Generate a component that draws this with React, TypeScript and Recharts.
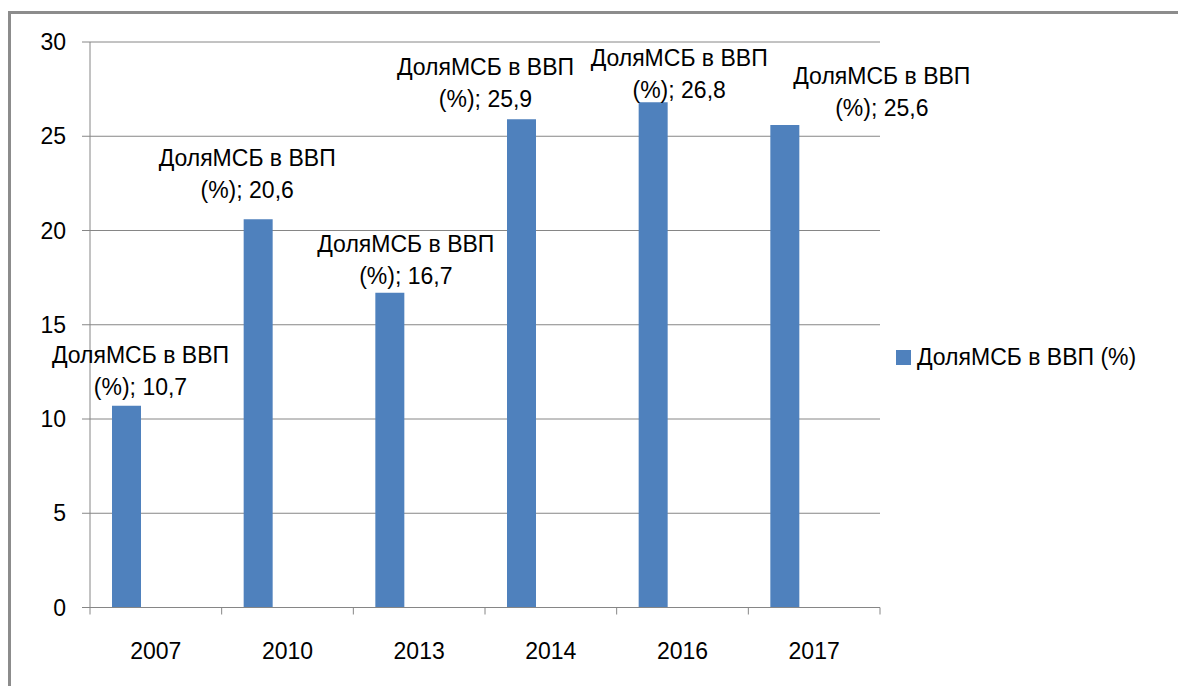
import React from 'react'
import { BarChart, Bar, XAxis, YAxis, CartesianGrid, Legend, LabelList } from 'recharts'

const years = ['2007', '2010', '2013', '2014', '2016', '2017']
const shares = [10.7, 20.6, 16.7, 25.9, 26.8, 25.6]
const yTicks = [0, 5, 10, 15, 20, 25, 30]
const seriesName = 'ДоляМСБ в ВВП (%)'
const labelTitle = 'ДоляМСБ в ВВП'

// Excel labels were dragged by hand, so each one gets its own nudge
const labelDx = [14, -11, 16, -36, 26, 97]
const labelGap = [11, 21, 9, 12, 4, 9]

const data = years.map((year, i) => ({ year, share: shares[i] }))

const FONT = '"Liberation Sans", Arial, sans-serif'
const GRID = '#868686'
const BLUE = '#4F81BD'
const PLOT_W = 790
const BAND = PLOT_W / years.length

const BarLabel = (props: any) => {
  const { x, y, width, value, index } = props
  const cx = Number(x) + Number(width) / 2 + labelDx[index]
  const base = Number(y) - labelGap[index]
  return (
    <text textAnchor="middle" fontSize={23} fill="#000" fontFamily={FONT}>
      <tspan x={cx} y={base - 32}>{labelTitle}</tspan>
      <tspan x={cx} y={base}>{`(%); ${String(value).replace('.', ',')}`}</tspan>
    </text>
  )
}

const YearTick = (props: any) => {
  const { x, y, payload, index } = props
  const half = payload && payload.offset ? payload.offset : BAND / 2
  return (
    <g>
      <line x1={x - half} x2={x - half} y1={y} y2={y + 7} stroke={GRID} />
      {index === years.length - 1 && (
        <line x1={x + half} x2={x + half} y1={y} y2={y + 7} stroke={GRID} />
      )}
      <text x={x} y={y + 51} textAnchor="middle" fontSize={23} fill="#000" fontFamily={FONT}>
        {payload.value}
      </text>
    </g>
  )
}

const LegendBox = () => (
  <div style={{ display: 'flex', alignItems: 'flex-start', fontFamily: FONT, fontSize: 23, lineHeight: '23px', color: '#000', whiteSpace: 'nowrap' }}>
    <span style={{ width: 15, height: 15, background: BLUE, marginTop: 4, marginRight: 6, flex: 'none' }} />
    <span>{seriesName}</span>
  </div>
)

export default function App() {
  return (
    <div
      style={{
        position: 'fixed',
        left: 8,
        top: 11,
        width: 1170,
        height: 675,
        boxSizing: 'border-box',
        borderLeft: '3px solid #8c8c8c',
        borderTop: '3px solid #8c8c8c',
        background: '#fff',
        overflow: 'hidden'
      }}
    >
      <BarChart
        width={1167}
        height={672}
        data={data}
        margin={{ top: 28, right: 298, bottom: 18.5, left: 0 }}
        barGap={0}
        style={{ fontFamily: FONT }}
      >
        <CartesianGrid vertical={false} stroke={GRID} />
        <XAxis
          dataKey="year"
          height={60}
          axisLine={{ stroke: GRID }}
          tickLine={false}
          tickSize={0}
          tickMargin={0}
          tick={<YearTick />}
          interval={0}
        />
        <YAxis
          width={79}
          domain={[0, 30]}
          ticks={yTicks}
          axisLine={{ stroke: GRID }}
          tickLine={{ stroke: GRID }}
          tickSize={8}
          tickMargin={16}
          tick={{ fill: '#000', fontSize: 23, fontFamily: FONT }}
        />
        <Legend
          layout="vertical"
          align="center"
          verticalAlign="middle"
          content={<LegendBox />}
          wrapperStyle={{ left: 885, top: 332, width: 280 }}
        />
        <Bar dataKey="share" name={seriesName} fill={BLUE} barSize={29} isAnimationActive={false}>
          <LabelList dataKey="share" content={<BarLabel />} />
        </Bar>
        {/* two empty series from the source workbook keep the blue bar at the left of each slot */}
        <Bar dataKey="s2" fill="#C0504D" barSize={29} legendType="none" isAnimationActive={false} />
        <Bar dataKey="s3" fill="#9BBB59" barSize={29} legendType="none" isAnimationActive={false} />
      </BarChart>
    </div>
  )
}
